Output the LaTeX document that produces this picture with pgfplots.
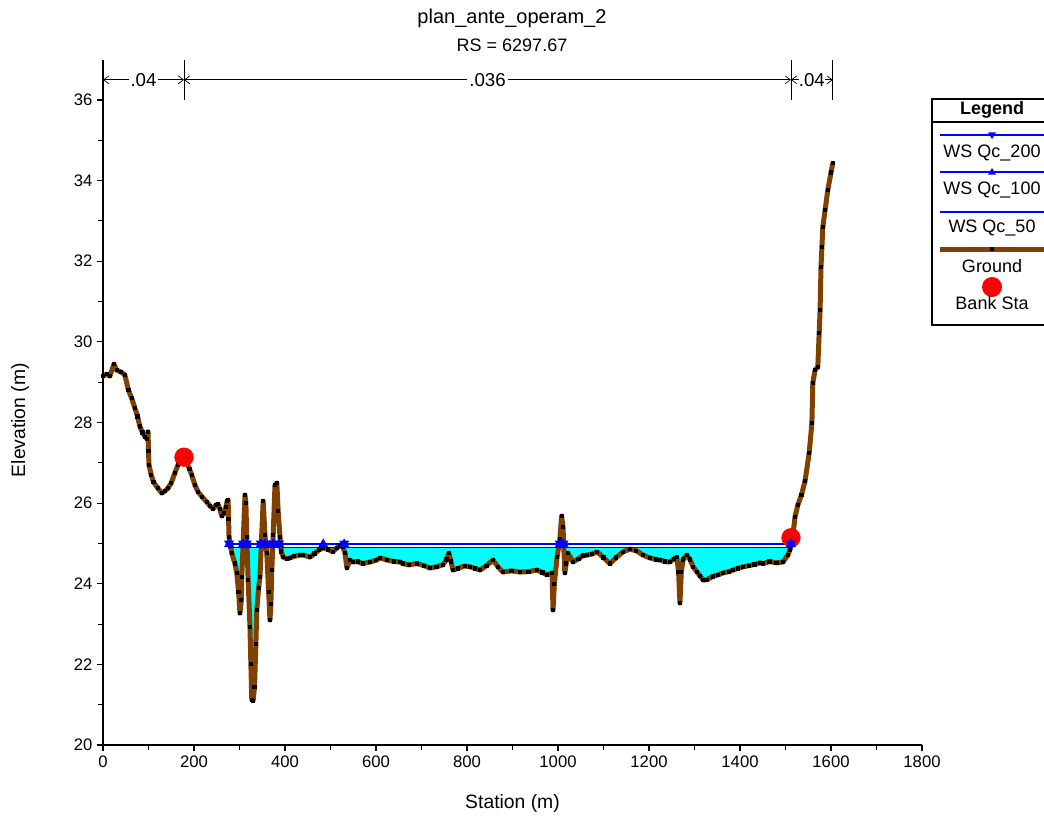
\documentclass[border=0pt]{standalone}
\usepackage{pgfplots}
\pgfplotsset{compat=1.18}
\usepackage{pgfplotstable}
\usepackage{fontspec}
\setmainfont{Liberation Sans}
\usetikzlibrary{arrows.meta}

\definecolor{groundbrown}{RGB}{128,64,0}
\definecolor{wsblue}{RGB}{0,0,255}
\definecolor{wscyan}{RGB}{0,255,255}
\definecolor{bankred}{RGB}{255,0,0}

% ground profile, station (m) vs elevation (m)
\pgfplotstableread{
x y
0 29.15
8 29.2
15 29.15
24 29.45
30 29.3
40 29.25
48 29.18
56 28.8
63 28.6
70 28.36
76 28.15
81 27.9
87 27.75
92 27.65
97 27.6
99 27.77
100 27.3
101 26.95
106 26.7
111 26.52
120 26.38
129 26.25
136 26.3
143 26.37
150 26.5
158 26.75
165 26.95
172 27.1
178 27.14
184 27.0
190 26.85
195 26.7
202 26.45
209 26.28
218 26.15
228 26.03
236 25.92
242 25.86
248 25.95
253 25.97
257 25.85
261 25.68
266 25.75
270 25.9
273 26.05
275 26.08
276 25.6
277 25.16
283 24.76
290 24.5
294 24.27
298 23.8
301 23.27
304 23.6
305 24.17
308 25.0
312 26.2
314 26.0
316 25.16
319 24.09
323 22.93
325 22.0
327 21.12
330 21.1
333 21.44
336 22.5
338 23.35
342 23.9
345 24.17
348 25.0
352 26.05
356 25.2
360 24.76
364 23.8
367 23.1
369 23.5
371 24.34
374 25.2
378 26.45
382 26.5
385 25.8
389 25.16
392 24.8
396 24.66
404 24.62
411 24.64
420 24.68
433 24.71
440 24.71
455 24.66
465 24.75
475 24.84
484 24.89
495 24.85
505 24.79
514 24.89
522 24.95
527 24.91
532 24.76
536 24.39
543 24.59
549 24.54
560 24.55
571 24.5
587 24.54
600 24.58
609 24.64
624 24.59
640 24.55
653 24.54
659 24.5
672 24.47
690 24.5
705 24.45
719 24.39
733 24.42
747 24.47
755 24.6
760 24.76
765 24.55
769 24.34
780 24.38
795 24.44
807 24.42
818 24.38
829 24.34
843 24.45
857 24.59
868 24.42
879 24.29
898 24.32
916 24.29
935 24.3
954 24.34
966 24.28
976 24.22
987 24.27
989 23.35
992 24.0
998 24.66
1004 25.1
1008 25.68
1011 25.4
1015 24.27
1018 24.5
1022 24.76
1033 24.54
1045 24.62
1055 24.7
1064 24.71
1075 24.74
1086 24.79
1100 24.65
1114 24.5
1128 24.65
1143 24.79
1158 24.86
1172 24.82
1187 24.71
1202 24.64
1215 24.6
1224 24.59
1235 24.55
1246 24.54
1255 24.62
1261 24.66
1265 24.3
1268 23.52
1271 24.3
1275 24.6
1283 24.71
1290 24.6
1297 24.42
1305 24.3
1312 24.2
1319 24.09
1327 24.1
1340 24.18
1352 24.22
1363 24.27
1375 24.3
1385 24.34
1395 24.38
1407 24.42
1420 24.45
1432 24.48
1444 24.52
1451 24.5
1465 24.55
1480 24.52
1495 24.54
1505 24.71
1510 24.85
1514 25.0
1521 25.66
1527 25.95
1535 26.2
1543 26.55
1552 27.24
1558 27.99
1560 28.98
1565 29.3
1571 29.38
1574 30.22
1576 30.79
1578 31.86
1580 32.35
1582 32.85
1587 33.27
1593 33.77
1600 34.2
1604 34.44
}\ground

\newcommand{\tickfont}{\fontsize{12.5}{14}\selectfont}
\newcommand{\labfont}{\fontsize{14.5}{17}\selectfont}
\newcommand{\legfont}{\fontsize{13.5}{16}\selectfont}
\newcommand{\nfont}{\fontsize{14}{16}\selectfont}

\begin{document}
\begin{tikzpicture}
\begin{axis}[
  scale only axis,
  width=614.25pt, height=514pt,
  xmin=0, xmax=1800, ymin=20, ymax=37,
  clip=false,
  axis on top,
  axis x line*=bottom, axis y line*=left,
  axis line style={-, line width=0.8pt, black},
  xtick={0,200,...,1800}, minor xtick={100,300,...,1700},
  ytick={20,22,...,36}, minor ytick={21,23,...,35},
  tick align=outside,
  major tick length=4.5pt, minor tick length=3.5pt,
  every tick/.style={black, line width=0.8pt},
  tick label style={font=\tickfont},
  /pgf/number format/assume math mode=true,
  /pgf/number format/1000 sep={},
  xlabel={Station (m)}, ylabel={Elevation (m)},
  xlabel style={at={(rel axis cs:0.5,-0.0847)}, anchor=center, font=\labfont},
  ylabel style={at={(rel axis cs:-0.1013,0.474)}, anchor=center, font=\labfont},
]
\coordinate (O) at (rel axis cs:0,0);

% water below the lowest profile, then blank under the ground
\addplot[fill=wscyan, draw=none, forget plot] coordinates {(276,24.9) (1512,24.9)} \closedcycle;
\addplot[fill=white, draw=none, forget plot] table {\ground} \closedcycle;

% ground
\addplot[groundbrown, line width=3.75pt, line join=round,
  mark=square*, mark size=1.2pt, mark options={black, fill=black, line width=0pt}]
  table {\ground};

% bank stations
\addplot[only marks, mark=*, mark size=7pt, color=bankred] coordinates {(178,27.14) (1512,25.14)};

% water surfaces
\addplot[wsblue, line width=0.8pt] coordinates {(276,24.9) (1512,24.9)};
\addplot[wsblue, line width=0.8pt, mark=triangle*, mark size=3.6pt]
  coordinates {(277,24.98) (308,24.98) (316,24.98) (347,24.98) (356,24.98) (374,24.98) (387,24.98) (484,24.98) (530,24.98) (1004,24.98) (1012,24.98) (1512,24.98)};
\addplot[wsblue, line width=0.8pt, mark=triangle*, mark size=3.6pt, mark options={rotate=180}]
  coordinates {(277,25.0) (308,25.0) (316,25.0) (347,25.0) (356,25.0) (374,25.0) (387,25.0) (530,25.0) (1004,25.0) (1012,25.0) (1512,25.0)};

% Manning's n values
\draw[line width=0.5pt] (axis cs:178,36) -- (axis cs:178,37);
\draw[line width=0.5pt] (axis cs:1512,36) -- (axis cs:1512,37);
\draw[line width=0.5pt] (axis cs:1604,36) -- (axis cs:1604,37);
\draw[line width=0.5pt, {Straight Barb[length=4pt,width=6pt]}-{Straight Barb[length=4pt,width=6pt]}]
  (axis cs:0,36.5) -- (axis cs:178,36.5) node[midway, fill=white, inner sep=1.5pt, font=\nfont] {.04};
\draw[line width=0.5pt, {Straight Barb[length=4pt,width=6pt]}-{Straight Barb[length=4pt,width=6pt]}]
  (axis cs:178,36.5) -- (axis cs:1512,36.5) node[midway, fill=white, inner sep=1.5pt, font=\nfont] {.036};
\draw[line width=0.5pt, {Straight Barb[length=4pt,width=6pt]}-{Straight Barb[length=4pt,width=6pt]}]
  (axis cs:1512,36.5) -- (axis cs:1604,36.5) node[midway, fill=white, inner sep=0.2pt, font=\nfont] {.04};
\end{axis}

% titles
\node[font=\fontsize{15}{18}\selectfont] at ([shift={(306.75pt,545.25pt)}]O) {plan\_ante\_operam\_2};
\node[font=\fontsize{13.5}{16}\selectfont] at ([shift={(306.75pt,525pt)}]O) {RS = 6297.67};

% legend box
\begin{scope}[shift={(O)}, xshift=621.75pt, yshift=484.5pt]
  \draw[line width=0.8pt, fill=white] (0,0) rectangle (90pt,-169.5pt);
  \node[font=\legfont\bfseries] at (45pt,-8.25pt) {Legend};
  \draw[line width=0.8pt] (0,-17.25pt) -- (90pt,-17.25pt);
  \draw[wsblue, line width=0.8pt] (6pt,-27pt) -- (90pt,-27pt);
  \fill[wsblue] (42pt,-25pt) -- (48pt,-25pt) -- (45pt,-30pt) -- cycle;
  \node[font=\legfont] at (45pt,-40.5pt) {WS Qc\_200};
  \draw[wsblue, line width=0.8pt] (6pt,-54.75pt) -- (90pt,-54.75pt);
  \fill[wsblue] (42pt,-56.75pt) -- (48pt,-56.75pt) -- (45pt,-51.75pt) -- cycle;
  \node[font=\legfont] at (45pt,-68.25pt) {WS Qc\_100};
  \draw[wsblue, line width=0.8pt] (6pt,-84.75pt) -- (90pt,-84.75pt);
  \node[font=\legfont] at (45pt,-96.75pt) {WS Qc\_50};
  \draw[groundbrown, line width=3.75pt] (6pt,-112.5pt) -- (90pt,-112.5pt);
  \fill[black] (43.8pt,-113.7pt) rectangle (46.2pt,-111.3pt);
  \node[font=\legfont] at (45pt,-125.25pt) {Ground};
  \fill[bankred] (45pt,-141pt) circle (7.5pt);
  \node[font=\legfont] at (45pt,-153pt) {Bank Sta};
\end{scope}

\pgfresetboundingbox
\path ([shift={(-77.25pt,-52.5pt)}]O) rectangle ++(783pt,611.25pt);
\end{tikzpicture}
\end{document}
